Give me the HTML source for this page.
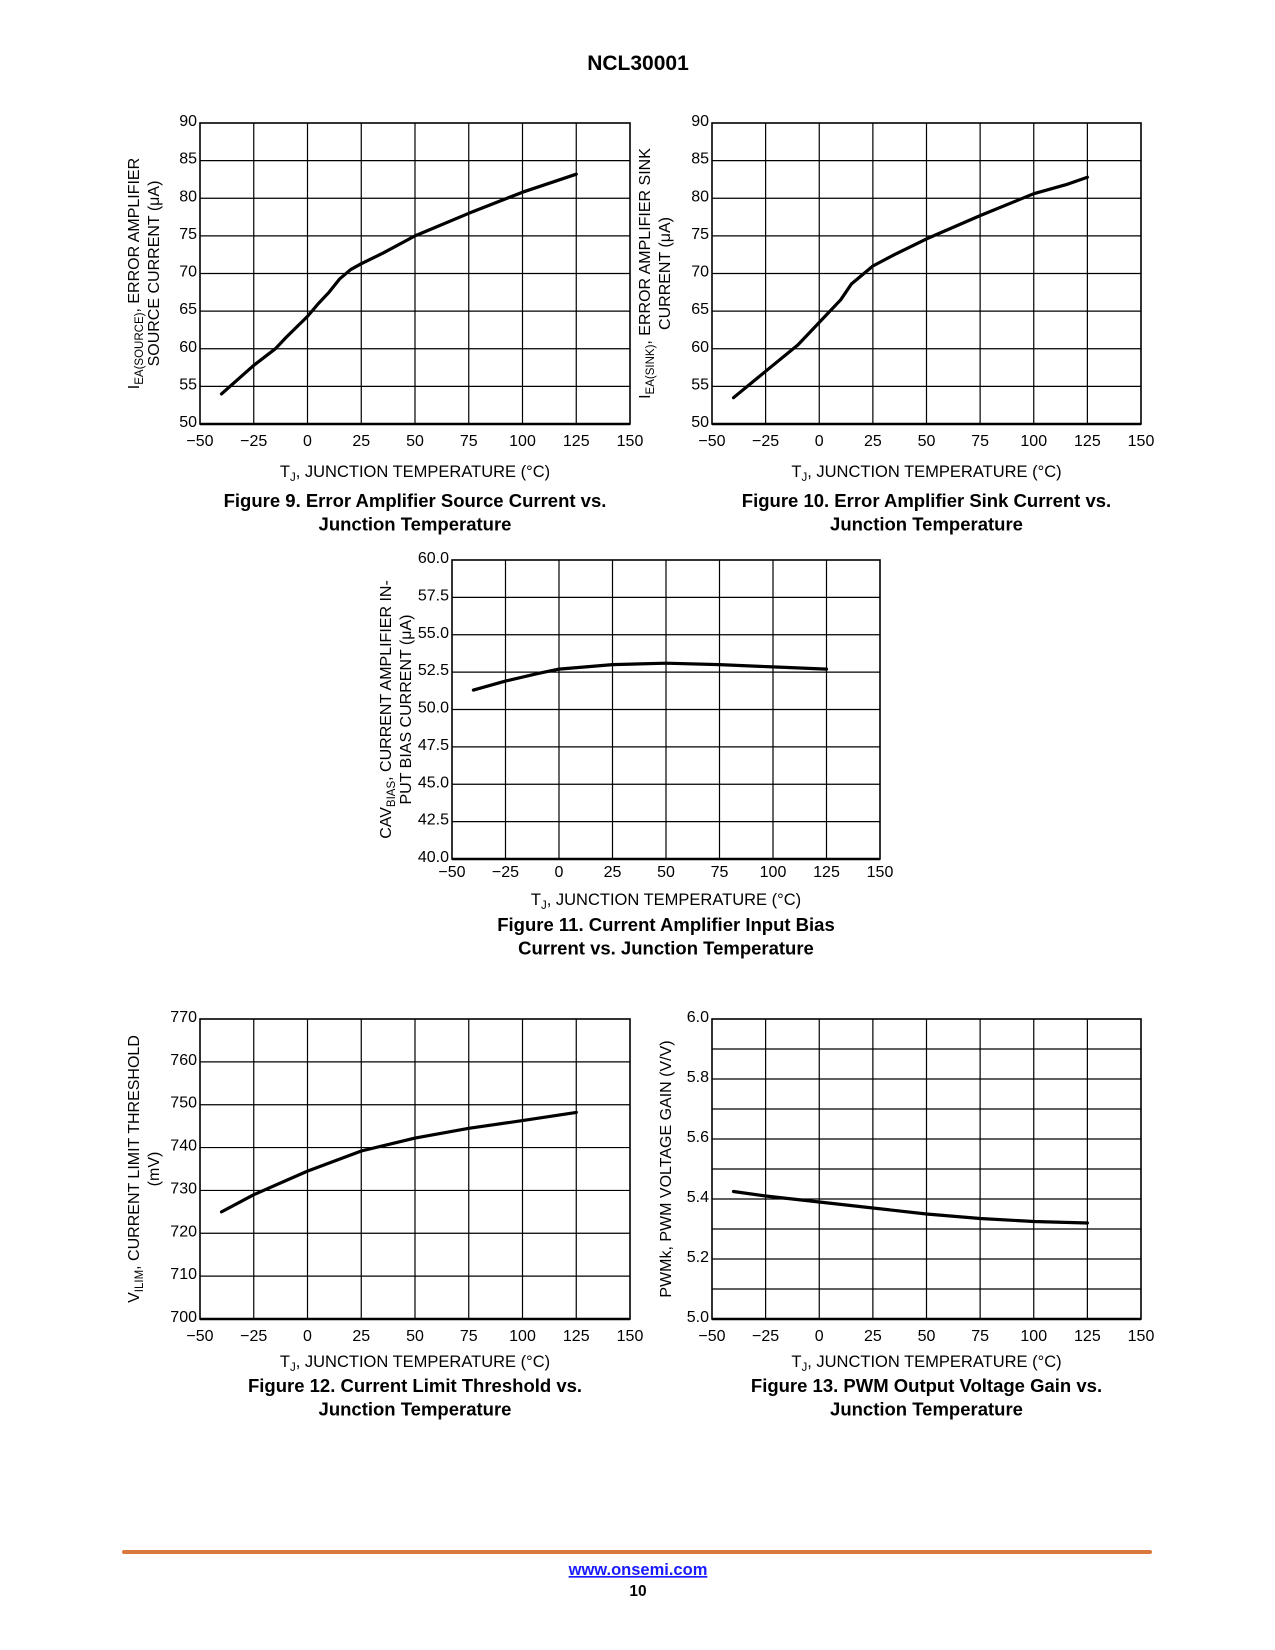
<!DOCTYPE html>
<html><head><meta charset="utf-8"><style>
html,body{margin:0;padding:0;background:#fff;}
svg{display:block;font-family:"Liberation Sans",Arial,sans-serif;}
</style></head><body>
<svg id="pg" width="1275" height="1650" viewBox="0 0 1275 1650" xmlns="http://www.w3.org/2000/svg">
<text x="638" y="70" text-anchor="middle" font-size="21" font-weight="bold">NCL30001</text>
<rect x="122" y="1550" width="1030" height="4" rx="2" fill="#d9783a"/>
<a href="#"><text x="638" y="1575" text-anchor="middle" font-size="16.5" font-weight="bold" fill="#1a1aff" text-decoration="underline">www.onsemi.com</text></a>
<text x="638" y="1596" text-anchor="middle" font-size="15.5" font-weight="bold">10</text>
</svg>
<script>
const xTicks=[-50,-25,0,25,50,75,100,125,150];
const tempX=[-40,-25,-15,-10,0,5,10,15,20,25,35,50,75,100,125];
const fig9Vals=[54,57.8,60,61.5,64.3,66,67.5,69.3,70.5,71.3,72.7,75,78,80.8,83.2];
const fig10X=[-40,-25,-10,0,10,15,25,35,50,75,100,115,125];
const fig10Vals=[53.5,57,60.5,63.5,66.5,68.6,71,72.5,74.6,77.7,80.6,81.8,82.8];
const fig11X=[-40,-25,-10,0,25,50,75,100,125];
const fig11Vals=[51.3,51.9,52.4,52.7,53.0,53.1,53.0,52.85,52.7];
const fig12X=[-40,-25,0,25,50,75,100,125];
const fig12Vals=[725,729,734.5,739.2,742.2,744.5,746.3,748.2];
const fig13X=[-40,-25,0,25,50,75,100,125];
const fig13Vals=[5.425,5.41,5.39,5.37,5.35,5.335,5.325,5.32];
const fig9Ticks=["50","55","60","65","70","75","80","85","90"];
const fig11Ticks=["40.0","42.5","45.0","47.5","50.0","52.5","55.0","57.5","60.0"];
const fig12Ticks=["700","710","720","730","740","750","760","770"];
const fig13Ticks=["5.0","5.2","5.4","5.6","5.8","6.0"];

const NS="http://www.w3.org/2000/svg";
const pg=document.getElementById('pg');
function mk(tag,attrs,parent){const e=document.createElementNS(NS,tag);for(const k in attrs)e.setAttribute(k,attrs[k]);(parent||pg).appendChild(e);return e;}

function chart(o){
  const g=mk('g',{});
  
  
  const {L,R,T,B,ymin,ymax,rows}=o;
  const sx=v=>L+(v-(-50))/200*(R-L);
  const sy=v=>B-(v-ymin)/(ymax-ymin)*(B-T);
  for(let i=1;i<rows;i++){const y=T+(B-T)*i/rows;const l=mk('line',{x1:L,x2:R,y1:y,y2:y,stroke:'#000','stroke-width':1.2},g);
    }
  xTicks.forEach((t,i)=>{const x=sx(t);
    if(i>0&&i<xTicks.length-1){const l=mk('line',{x1:x,x2:x,y1:T,y2:B,stroke:'#000','stroke-width':1.2},g);
      }
    const tx=mk('text',{x:x,y:B+o.tk,'text-anchor':'middle','font-size':16},g);tx.textContent=t<0?'\u2212'+(-t):String(t);
    });
  const fr=mk('rect',{x:L,y:T,width:R-L,height:B-T,fill:'none',stroke:'#000','stroke-width':1.6},g);
  
  const ax=mk('line',{x1:L,x2:R,y1:B,y2:B,stroke:'#000','stroke-width':2.6},g);
  
  o.yTicks.forEach((t,i)=>{const y=B-(B-T)*i/(o.yTicks.length-1);
    const tx=mk('text',{x:L-3,y:y+3,'text-anchor':'end','font-size':16},g);tx.textContent=t;
    });
  let d='';o.xs.forEach((v,i)=>{d+=(i?'L':'M')+sx(v).toFixed(1)+','+sy(o.ys[i]).toFixed(1);});
  const p=mk('path',{d:d,fill:'none',stroke:'#000','stroke-width':3.2,'stroke-linejoin':'round','stroke-linecap':'round'},g);
  
  const cx=(L+R)/2;
  const at=mk('text',{x:cx,y:B+o.at,'text-anchor':'middle','font-size':16.5},g);
  at.innerHTML='T<tspan font-size="11.5" dy="4">J</tspan><tspan dy="-4">, JUNCTION TEMPERATURE (°C)</tspan>';
  
  o.cap.forEach((c,i)=>{const t=mk('text',{x:cx,y:B+o.cp+i*23.5,'text-anchor':'middle','font-size':18.5,'font-weight':'bold'},g);t.textContent=c;
    });
  o.ylab.forEach((c,i)=>{const x=o.ylx[i],y=(T+B)/2;
    const t=mk('text',{x:x,y:y,'text-anchor':'middle','font-size':16,transform:`rotate(-90 ${x} ${y})`},g);t.innerHTML=c;
    });
}
const sub=s=>`<tspan font-size="11.5" dy="4">${s}</tspan><tspan dy="-4">`;
chart({name:'figure-9-chart',L:200,R:630,T:123,B:424,ymin:50,ymax:90,rows:8,yTicks:fig9Ticks,xs:tempX,ys:fig9Vals,tk:22,at:53,cp:83,
  cap:['Figure 9. Error Amplifier Source Current vs.','Junction Temperature'],
  ylab:['I'+sub('EA(SOURCE)')+', ERROR AMPLIFIER</tspan>','SOURCE CURRENT (μA)'],ylx:[139,159]});
chart({name:'figure-10-chart',L:712,R:1141,T:123,B:424,ymin:50,ymax:90,rows:8,yTicks:fig9Ticks,xs:fig10X,ys:fig10Vals,tk:22,at:53,cp:83,
  cap:['Figure 10. Error Amplifier Sink Current vs.','Junction Temperature'],
  ylab:['I'+sub('EA(SINK)')+', ERROR AMPLIFIER SINK</tspan>','CURRENT (μA)'],ylx:[650,670]});
chart({name:'figure-11-chart',L:452,R:880,T:560,B:859,ymin:40,ymax:60,rows:8,yTicks:fig11Ticks,xs:fig11X,ys:fig11Vals,tk:18,at:46,cp:72,
  cap:['Figure 11. Current Amplifier Input Bias','Current vs. Junction Temperature'],
  ylab:['CAV'+sub('BIAS')+', CURRENT AMPLIFIER IN-</tspan>','PUT BIAS CURRENT (μA)'],ylx:[391,411]});
chart({name:'figure-12-chart',L:200,R:630,T:1019,B:1319,ymin:700,ymax:770,rows:7,yTicks:fig12Ticks,xs:fig12X,ys:fig12Vals,tk:22,at:48,cp:73,
  cap:['Figure 12. Current Limit Threshold vs.','Junction Temperature'],
  ylab:['V'+sub('ILIM')+', CURRENT LIMIT THRESHOLD</tspan>','(mV)'],ylx:[139,159]});
chart({name:'figure-13-chart',L:712,R:1141,T:1019,B:1319,ymin:5.0,ymax:6.0,rows:10,yTicks:fig13Ticks,xs:fig13X,ys:fig13Vals,tk:22,at:48,cp:73,
  cap:['Figure 13. PWM Output Voltage Gain vs.','Junction Temperature'],
  ylab:['PWMk, PWM VOLTAGE GAIN (V/V)'],ylx:[671]});
</script>
</body></html>
